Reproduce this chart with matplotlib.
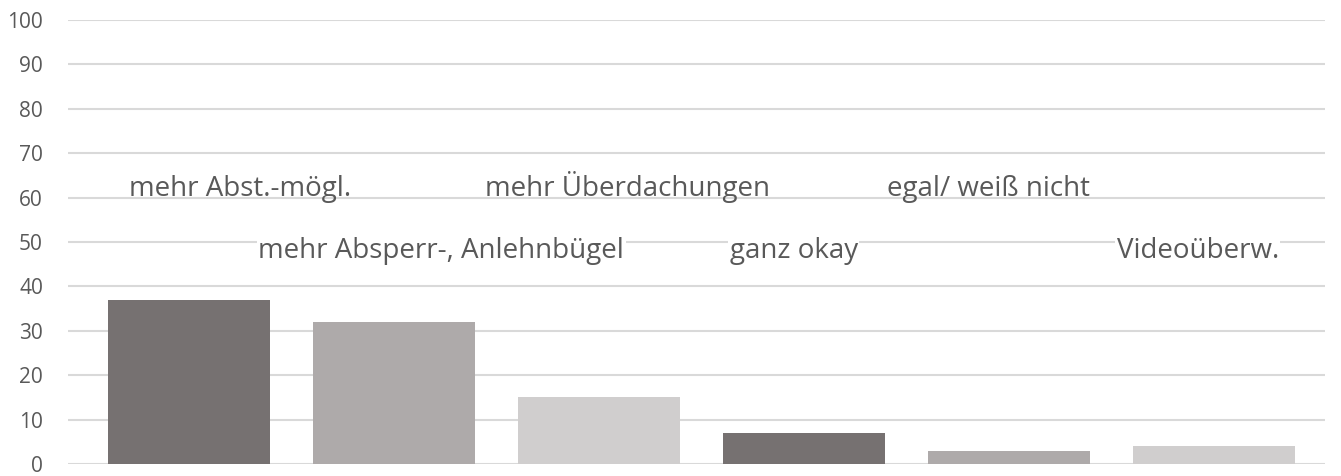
import matplotlib
matplotlib.use('Agg')
import matplotlib.pyplot as plt

categories = ["mehr Abst.-mögl.", "mehr Absperr-, Anlehnbügel", "mehr Überdachungen",
              "ganz okay", "egal/ weiß nicht", "Videoüberw."]
values = [37, 32, 15, 7, 3, 4]

bar_colors = ['#767171', '#aeaaaa', '#d0cece', '#767171', '#aeaaaa', '#d0cece']
# category labels were dragged into the plot area: x in category units, y = baseline value
label_x = [0.25, 1.23, 2.14, 2.95, 3.90, 4.92]
label_y = [60.3, 46.3, 60.3, 46.3, 60.3, 46.3]
label_bg = [False, True, False, True, False, True]

plt.rcParams['font.family'] = ['Open Sans', 'DejaVu Sans']

fig = plt.figure(figsize=(13.41, 4.76), dpi=100)
ax = fig.add_axes([68 / 1341, 12 / 476, (1325 - 68) / 1341, (464 - 20) / 476])

ax.bar(range(len(values)), values, width=0.79, color=bar_colors, zorder=2)

for c, x, y, bg in zip(categories, label_x, label_y, label_bg):
    t = ax.text(x, y, c, ha='center', va='baseline', fontsize=20, color='#595959', zorder=3)
    if bg:
        t.set_bbox(dict(facecolor='white', edgecolor='none', pad=1))

ax.set_ylim(0, 100)
ax.set_xlim(-0.59, 5.54)
ax.set_yticks(range(0, 101, 10))
ax.set_xticks([])
ax.yaxis.grid(True, color='#d9d9d9', linewidth=1.5, zorder=0)
ax.set_axisbelow(True)
for s in ax.spines.values():
    s.set_visible(False)
ax.tick_params(axis='y', length=0, pad=18, labelsize=15, labelcolor='#595959')

fig.savefig('out.png', dpi=100)
